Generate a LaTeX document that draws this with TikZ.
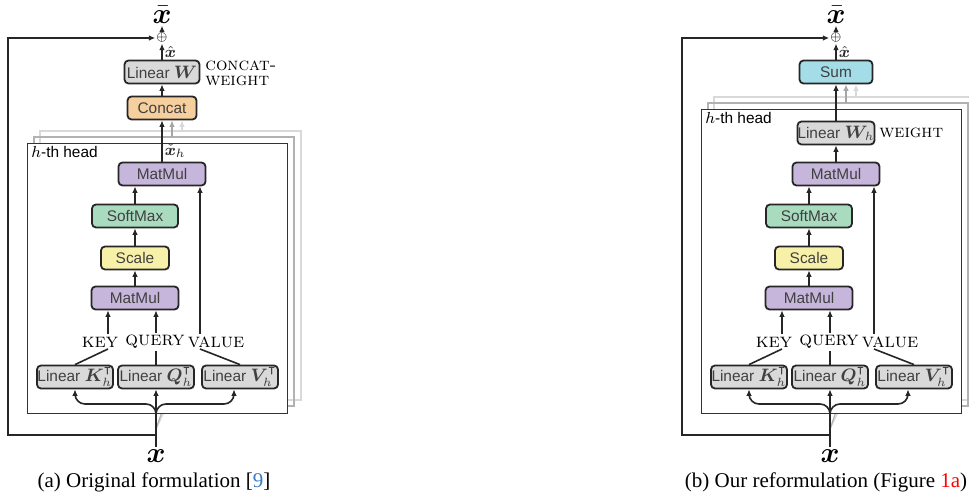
\documentclass[tikz,border=0pt]{standalone}
\usepackage{amsmath,amssymb,bm}
\usepackage{fontspec}
\newfontfamily\boxfont{Liberation Sans}
\newfontfamily\capfont{Liberation Serif}
\usetikzlibrary{arrows.meta}

\definecolor{linfill}{HTML}{D9D9D9}
\definecolor{catfill}{HTML}{F6CF9F}
\definecolor{mmfill}{HTML}{C7B6DC}
\definecolor{smfill}{HTML}{A9DBBF}
\definecolor{scfill}{HTML}{F6F0A9}
\definecolor{sumfill}{HTML}{A4DCE7}
\definecolor{citeblue}{HTML}{3B7DC4}

\newcommand{\mathin}[1]{{\small$#1$}}

\tikzset{
  wire/.style={line width=0.8pt, black!85},
  arr/.style={wire, -{Latex[length=3.2pt,width=2.8pt]}},
  ghostarr/.style={line width=0.8pt, -{Latex[length=3.2pt,width=2.8pt]}},
  op/.style={draw=black!85, line width=0.9pt, rounded corners=2pt, minimum height=11.5pt,
    inner sep=0pt, text=black!75, font=\boxfont\fontsize{7.7}{9}\selectfont},
  lin/.style={op, fill=linfill, minimum width=38pt},
  mm/.style={op, fill=mmfill, minimum width=43.5pt},
  smx/.style={op, fill=smfill, minimum width=43pt},
  scl/.style={op, fill=scfill, minimum width=34pt},
  cat/.style={op, fill=catfill, minimum width=34.5pt},
  sumb/.style={op, fill=sumfill, minimum width=36.5pt},
  tag/.style={inner sep=1pt, font=\normalsize},
  headbox/.style={draw=black!80, line width=0.5pt, fill=white},
  captext/.style={font=\capfont\fontsize{10.5}{12}\selectfont},
  vec/.style={font=\Large, inner sep=1pt},
}

\begin{document}
\begin{tikzpicture}[x=0.5pt, y=-0.5pt]
  \useasboundingbox (0,0) rectangle (969,497);
  % Partes comunes de los dos paneles
  \foreach \pn/\dx/\ytop in {a/0/144, b/674/110} {
    \begin{scope}[shift={(\dx,0)}]
      % Cabezas de atras
      \draw[black!15, line width=0.6pt] (156,429) -- (170,400);
      \draw[black!30, line width=0.6pt] (156,429) -- (164,406);
      \draw[black!15, line width=0.6pt] (40,\ytop-13) rectangle (301,400);
      \draw[black!30, line width=0.6pt] (34,\ytop-7) rectangle (294,406);
      \draw[headbox] (27,\ytop) rectangle (287,413);
      \node[anchor=west, inner sep=0pt, font=\boxfont\fontsize{7.7}{9}\selectfont]
        (\pn hlabel) at (31,\ytop+8) {$h$-th head};
      % Bloques de la cabeza
      \node[mm] (\pn mm2) at (162,174) {MatMul};
      \node[smx] (\pn sm) at (135,216) {SoftMax};
      \node[scl] (\pn sc) at (135,258) {Scale};
      \node[mm] (\pn mm1) at (135,298) {MatMul};
      \node[tag] (\pn key) at (100,342) {\textsc{key}};
      \node[tag] (\pn qry) at (155,342) {\textsc{query}};
      \node[tag] (\pn val) at (216,342) {\textsc{value}};
      \node[lin] (\pn lk) at (75,377) {Linear \mathin{\bm{K}_h^{\intercal}}};
      \node[lin] (\pn lq) at (156,377) {Linear \mathin{\bm{Q}_h^{\intercal}}};
      \node[lin] (\pn lv) at (240,377) {Linear \mathin{\bm{V}_h^{\intercal}}};
      \node[vec] (\pn in) at (156,456) {$\bm{x}$};
      \node[vec] (\pn out) at (162,15) {$\bar{\bm{x}}$};
      \node[inner sep=0.3pt, font=\fontsize{6}{6}\selectfont] (\pn add) at (162,38) {$\oplus$};
      \coordinate (\pn split) at (156,414);
      \coordinate (\pn fork) at (156,404);
      \coordinate (\pn res) at (156,435);
      \coordinate (\pn corner) at (8,38);
      \coordinate (\pn kbend) at (108,349);
      \coordinate (\pn vbend) at (200,349);
      % Flechas
      \draw[arr] (\pn mm1) -- (\pn sc);
      \draw[arr] (\pn sc) -- (\pn sm);
      \draw[arr] (\pn sm.north) -- (\pn sm.north |- \pn mm2.south);
      \draw[wire] (\pn lk.north) -- (\pn kbend);
      \draw[arr] (\pn kbend |- \pn key.north) -- (\pn kbend |- \pn mm1.south);
      \draw[wire] (\pn lq.north) -- (\pn lq.north |- \pn qry.south);
      \draw[arr] (\pn lq.north |- \pn qry.north) -- (\pn lq.north |- \pn mm1.south);
      \draw[wire] (\pn lv.north) -- (\pn vbend);
      \draw[arr] (\pn vbend |- \pn val.north) -- (\pn vbend |- \pn mm2.south);
      \draw[arr] (\pn in) -- (\pn in |- \pn lq.south);
      \draw[arr, rounded corners=5pt] (\pn split) -- (\pn fork) -| (\pn lk.south);
      \draw[arr, rounded corners=5pt] (\pn split) -- (\pn fork) -| ([xshift=-3pt]\pn lv.south);
      \draw[arr] (\pn res) -| (\pn corner) -- (\pn add);
      \draw[arr] (\pn add) -- (\pn out);
    \end{scope}
  }
  % Panel (a)
  \node[cat] (amerge) at (162,108) {Concat};
  \node[lin, minimum width=37.5pt] (aproj) at (162,72) {Linear \mathin{\bm{W}}};
  \node[tag, anchor=west, align=left, font=\fontsize{9}{7.5}\selectfont] (acw) at (203,73)
    {\textsc{concat-}\\\textsc{weight}};
  \draw[arr] (amm2) -- (amerge) node[pos=0.25, right, inner sep=1pt, font=\footnotesize] {$\check{\bm{x}}_h$};
  \draw[ghostarr, black!35] (172,137) -- ([xshift=5pt]amerge.south);
  \draw[ghostarr, black!15] (182,131) -- ([xshift=10pt]amerge.south);
  \draw[arr] (amerge) -- (aproj);
  \draw[arr] (aproj) -- (aadd) node[midway, right, inner sep=1pt, font=\footnotesize] {$\hat{\bm{x}}$};
  \node[captext] (acap) at (154,482) {(a) Original formulation [\textcolor{citeblue}{9}]};
  % Panel (b)
  \begin{scope}[shift={(674,0)}]
    \node[sumb] (bmerge) at (162,72) {Sum};
    \node[lin, minimum width=37.5pt] (bproj) at (162,133) {Linear \mathin{\bm{W}_h}};
    \node[tag, anchor=west, font=\fontsize{9}{7.5}\selectfont] (bw) at (203,133) {\textsc{weight}};
    \draw[arr] (bmm2) -- (bproj);
    \draw[arr] (bproj) -- (bmerge);
    \draw[ghostarr, black!35] (172,103) -- ([xshift=5pt]bmerge.south);
    \draw[ghostarr, black!15] (182,97) -- ([xshift=10pt]bmerge.south);
    \draw[arr] (bmerge) -- (badd) node[midway, right, inner sep=1pt, font=\footnotesize] {$\hat{\bm{x}}$};
    \node[captext] (bcap) at (152,482) {(b) Our reformulation (Figure \textcolor{red}{1a})};
  \end{scope}
\end{tikzpicture}
\end{document}
